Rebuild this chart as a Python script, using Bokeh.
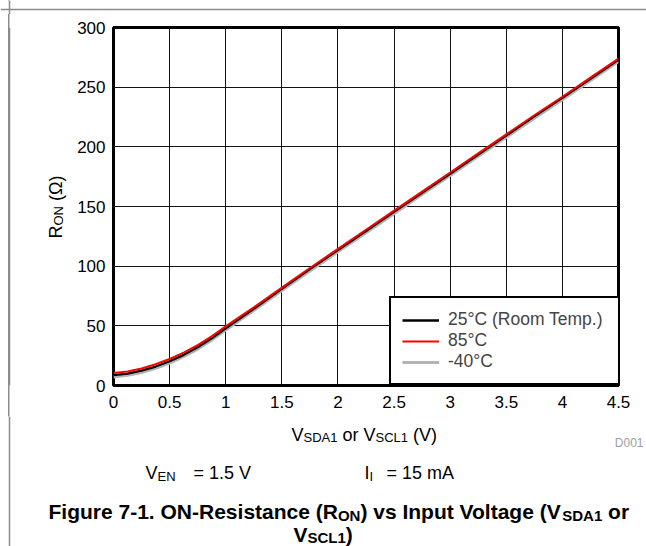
from bokeh.plotting import figure
from bokeh.layouts import column, row
from bokeh.models import (Range1d, FixedTicker, Label, Legend, LegendItem, Span)
from bokeh.embed import file_html
from bokeh.resources import INLINE

# ---------------- data ----------------
v_in = [0, 0.125, 0.25, 0.375, 0.5, 0.625, 0.75, 0.875, 1.0, 1.125, 1.25, 1.5, 1.75,
        2.0, 2.25, 2.5, 2.75, 3.0, 3.25, 3.5, 3.75, 4.0, 4.25, 4.5]
r_85 = [10.5, 11.8, 14.3, 17.8, 22.2, 27.6, 33.8, 41.2, 49.5, 57.5, 65.5, 82, 98.5,
        114.5, 130.5, 146.5, 162.5, 178.5, 194.5, 210.5, 226.5, 242, 258, 274]
r_25 = [8.7, 10, 12.4, 15.9, 20.3, 25.7, 32, 39.5, 48, 56.2, 64.3, 81, 97.5,
        113.5, 129.5, 145.5, 161.5, 177.5, 193.5, 209.5, 225.5, 241, 257, 273]
r_m40 = [7.2, 8.5, 10.9, 14.4, 18.8, 24.2, 30.5, 38, 46.5, 54.7, 62.8, 79.5, 96,
         112, 128, 144, 160, 176, 192, 208, 224, 239.5, 255.5, 271.5]
series_labels = ["25°C (Room Temp.)", "85°C", "-40°C"]
x_ticks = [0, 0.5, 1, 1.5, 2, 2.5, 3, 3.5, 4, 4.5]
x_tick_labels = ["0", "0.5", "1", "1.5", "2", "2.5", "3", "3.5", "4", "4.5"]
y_ticks = [0, 50, 100, 150, 200, 250, 300]
y_tick_labels = ["0", "50", "100", "150", "200", "250", "300"]

FONT = "Liberation Sans"
W, H = 646, 546
FL, FR, FT, FB = 113, 618, 27, 385   # plot frame, page px
TOPH = 14                            # top strip height
LEFTW = 70                           # left strip width
MIDB = 416                           # bottom of middle row
MIDH = MIDB - TOPH
BOTH = H - MIDB
GRAY = "#8c8c8c"


class Strip:
    """A plain figure whose data units are page pixels (y measured downward)."""

    def __init__(self, width, height, page_top, border_top=0, border_bottom=0,
                 top_edge=False, transparent=False):
        self.frame_top = page_top + border_top
        self.frame_h = height - border_top - border_bottom
        f = figure(width=width, height=height, output_backend="svg", toolbar_location=None,
                   x_range=Range1d(0, width), y_range=Range1d(0, self.frame_h),
                   x_axis_location=None, y_axis_location=None,
                   min_border=0, min_border_left=0, min_border_right=0,
                   min_border_top=border_top, min_border_bottom=border_bottom)
        f.grid.visible = False
        f.outline_line_color = None
        if transparent:
            f.background_fill_color = None
            f.border_fill_color = None
        else:
            f.background_fill_color = "white"
            f.border_fill_color = "white"
        self.fig = f
        # outer gray frame of the figure box (left edge, and top edge in the top strip)
        f.add_layout(Span(location=9, dimension="height", line_color=GRAY, line_width=1.5))
        if top_edge:
            f.add_layout(Span(location=self.y(9), dimension="width", line_color=GRAY, line_width=1.5))

    def y(self, page_y):
        return self.frame_top + self.frame_h - page_y


top = Strip(W, TOPH, 0, top_edge=True)
left = Strip(LEFTW, MIDH, TOPH, border_top=FT - TOPH, border_bottom=MIDB - FB, transparent=True)
bottom = Strip(W, BOTH, MIDB)

# ---------------- main chart ----------------
p = figure(width=W - LEFTW, height=MIDH, output_backend="svg", toolbar_location=None,
           x_range=Range1d(0, 4.5), y_range=Range1d(0, 300),
           min_border_left=FL - LEFTW, min_border_right=W - FR,
           min_border_top=FT - TOPH, min_border_bottom=MIDB - FB)
p.background_fill_color = "white"
p.border_fill_color = "white"
p.outline_line_color = "black"
p.outline_line_width = 3

for ax, ticks, labels in ((p.xaxis[0], x_ticks, x_tick_labels), (p.yaxis[0], y_ticks, y_tick_labels)):
    ax.ticker = FixedTicker(ticks=ticks)
    ax.major_label_overrides = {t: l for t, l in zip(ticks, labels)}
    ax.axis_line_color = None
    ax.major_tick_line_color = None
    ax.minor_tick_line_color = None
    ax.major_tick_out = 0
    ax.major_tick_in = 0
    ax.major_label_text_font = FONT
    ax.major_label_text_font_size = "17px"
    ax.major_label_text_color = "black"
p.xaxis.major_label_standoff = 10
p.yaxis.major_label_standoff = 8

for g in (p.xgrid[0], p.ygrid[0]):
    g.grid_line_color = "#111111"
    g.grid_line_alpha = 1
    g.grid_line_width = 1

rg = p.line(v_in, r_m40, line_color="#b4b4b4", line_width=3)
rb = p.line(v_in, r_25, line_color="black", line_width=2.3)
rr = p.line(v_in, r_85, line_color="#ff0000", line_width=2)

legend = Legend(items=[LegendItem(label=series_labels[0], renderers=[rb]),
                       LegendItem(label=series_labels[1], renderers=[rr]),
                       LegendItem(label=series_labels[2], renderers=[rg])],
                location=(389 - FL, 0),
                label_text_font=FONT, label_text_font_size="17.5px",
                glyph_width=37, glyph_height=20, label_height=20, label_standoff=9,
                label_width=161, padding=11, spacing=0, margin=0,
                border_line_color="black", border_line_width=2.5, border_line_alpha=1,
                background_fill_color="white", background_fill_alpha=1)
p.add_layout(legend, "center")

# ---------------- texts ----------------
REG = {' ': 278, '(': 333, ')': 333, '.': 278, '-': 333, '=': 584, '°': 400, 'Ω': 768,
       'A': 667, 'C': 722, 'D': 722, 'E': 667, 'I': 278, 'L': 556, 'N': 722, 'O': 778,
       'R': 722, 'S': 667, 'V': 667, 'm': 833, 'o': 556, 'r': 333}
BOLD = {' ': 278, '(': 333, ')': 333, '.': 278, '-': 333, 'A': 722, 'C': 722, 'D': 722,
        'F': 611, 'I': 278, 'L': 611, 'N': 722, 'O': 778, 'R': 722, 'S': 667, 'V': 667,
        'a': 556, 'c': 556, 'e': 556, 'g': 611, 'i': 278, 'l': 278, 'n': 611, 'o': 611,
        'p': 611, 'r': 389, 's': 556, 't': 333, 'u': 611, 'v': 556}


def twidth(s, size, bold):
    tab = BOLD if bold else REG
    return sum(tab.get(c, 556) for c in s) * size / 1000.0


def run(strip, pieces, x0, base, rotated=False, color="black"):
    """Place text pieces one after another along a baseline (page px)."""
    pos = 0.0
    for text, size, shift, bold in pieces:
        lead = len(text) - len(text.lstrip(" "))
        pos += twidth(" " * lead, size, bold)
        body = text.strip(" ")
        if rotated:
            lab = Label(x=x0 + shift, y=strip.y(base - pos), text=body, angle=1.5707963,
                        text_align="left", text_baseline="alphabetic")
        else:
            lab = Label(x=x0 + pos, y=strip.y(base + shift), text=body,
                        text_align="left", text_baseline="alphabetic")
        lab.text_font = FONT
        lab.text_font_size = f"{size}px"
        lab.text_color = color
        lab.text_font_style = "bold" if bold else "normal"
        strip.fig.add_layout(lab)
        pos += twidth(text.lstrip(" "), size, bold)


# y axis title  R_ON (Ω)
run(left, [("R", 18, 0, False), ("ON", 13, 3, False), (" (Ω)", 18, 0, False)], 55, 238, rotated=True)
# x axis title
run(bottom, [("V", 18, 0, False), ("SDA1", 13, 3, False), (" or ", 18, 0, False),
             ("V", 18, 0, False), ("SCL1", 13, 3, False), (" (V)", 18, 0, False)], 291, 434)
# D001
bottom.fig.add_layout(Label(x=643, y=bottom.y(442), text="D001", text_align="right",
                            text_baseline="alphabetic", text_font=FONT, text_font_size="12px",
                            text_color="#a0a0a0"))
# conditions
run(bottom, [("V", 18, 0, False), ("EN", 13, 4, False)], 145, 472)
run(bottom, [("= 1.5 V", 18, 0, False)], 193, 472)
run(bottom, [("I", 18, 0, False), ("I", 13, 4, False)], 364, 472)
run(bottom, [("= 15 mA", 18, 0, False)], 386, 472)
# caption
run(bottom, [("Figure 7-1. ON-Resistance (R", 21, 0, True), ("ON", 15, 4, True),
             (") vs Input Voltage (V", 21, 0, True), ("SDA1", 15, 4, True), (" or", 21, 0, True)], 48, 511)
run(bottom, [("V", 21, 0, True), ("SCL1", 15, 3, True), (")", 21, 0, True)], 293, 534)

layout = column(top.fig, row(left.fig, p), bottom.fig)
# gray left edge of the outer figure box, visible through the transparent left strip borders
layout.styles = {"background-image": f"linear-gradient({GRAY}, {GRAY})",
                 "background-size": "1.5px 100%",
                 "background-position": "8.25px 0px",
                 "background-repeat": "no-repeat"}
open("out.html", "w").write(file_html(layout, INLINE))
